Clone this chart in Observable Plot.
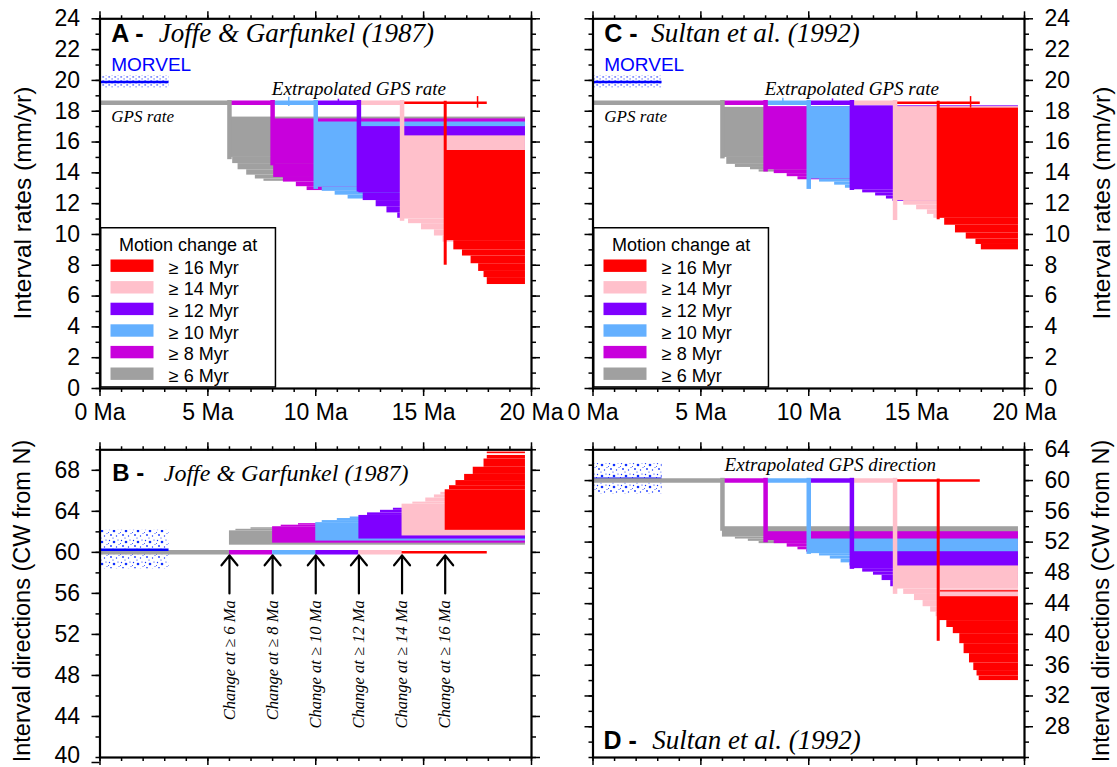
<!DOCTYPE html>
<html>
<head>
<meta charset="utf-8">
<script src="https://cdn.jsdelivr.net/npm/d3@7"></script>
<script src="https://cdn.jsdelivr.net/npm/@observablehq/plot@0.6"></script>
<style>
html,body{margin:0;padding:0;background:#fff;}
#wrap{position:relative;width:1117px;height:767px;overflow:hidden;background:#fff;}
#wrap svg{position:absolute;overflow:visible;}
</style>
</head>
<body>
<div id="wrap"></div>
<script>
// ---------------- data ----------------
const groupStarts = [6, 8, 10, 12, 14, 16];
const groupColors = ["#a0a0a0", "#c800dc", "#64b0ff", "#7f00ff", "#ffc0cb", "#ff0000"];
const legendTitle = "Motion change at";
const legendLabels = ["≥ 6 Myr", "≥ 8 Myr", "≥ 10 Myr", "≥ 12 Myr", "≥ 14 Myr", "≥ 16 Myr"];
const arrowLabels = ["Change at ≥ 6 Ma", "Change at ≥ 8 Ma", "Change at ≥ 10 Ma", "Change at ≥ 12 Ma", "Change at ≥ 14 Ma", "Change at ≥ 16 Ma"];
const xMajorTicks = [0, 5, 10, 15, 20];
const xMinorTicks = [0,1,2,3,4,5,6,7,8,9,10,11,12,13,14,15,16,17,18,19,20];
const rateTicks = [0,2,4,6,8,10,12,14,16,18,20,22,24];
const rateMinorTicks = [0,1,2,3,4,5,6,7,8,9,10,11,12,13,14,15,16,17,18,19,20,21,22,23,24];
const dirTicksB = [44,48,52,56,60,64,68];
const dirEdgeTicksB = [40];
const dirMinorTicksB = [40,42,44,46,48,50,52,54,56,58,60,62,64,66,68,70];
const dirTicksD = [28,32,36,40,44,48,52,56,60,64];
const dirMinorTicksD = [24,26,28,30,32,34,36,38,40,42,44,46,48,50,52,54,56,58,60,62,64];

const gpsRate = 18.55;        // mm/yr
const gpsDir = 60.0;          // deg CW from N
const extrapEnd = 17.95;      // Ma, end of extrapolated GPS line
const intervalEnd = 19.72;    // Ma, end of all interval lines

// MORVEL: [until Ma, value, low, high]
const morvelA = [3.2, 19.9, 19.5, 20.3];
const morvelC = [3.2, 19.9, 19.5, 20.3];
const morvelB = [3.2, 60.25, 58.4, 62.15];
const morvelD = [3.2, 60.25, 58.2, 62.2];

// Interval fans: [group start Ma, value 1, value 2, interval start Ma]
const fanA = [
  [6,17.62,15.0,6.0],[6,15.0,14.6,6.15],[6,14.6,14.2,6.4],[6,14.2,13.85,6.8],[6,13.85,13.6,7.2],[6,13.6,13.45,7.6],
  [8,17.5,14.6,8.0],[8,14.6,13.7,8.05],[8,13.7,13.4,8.5],[8,13.4,13.1,9.1],[8,13.1,12.85,9.6],
  [10,17.3,13.07,10.0],[10,13.07,12.8,10.3],[10,12.8,12.55,10.9],[10,12.55,12.3,11.5],
  [12,17.0,12.7,12.0],[12,12.7,12.2,12.2],[12,12.2,11.8,12.8],[12,11.8,11.4,13.3],[12,11.4,11.05,13.8],
  [14,16.4,11.0,14.0],[14,11.0,10.7,14.3],[14,10.7,10.3,14.9],[14,10.3,9.9,15.5],[14,9.9,9.5,15.9],
  [16,15.45,9.6,16.0],[16,9.6,9.0,16.4],[16,9.0,8.6,16.8],[16,8.6,8.1,17.2],[16,8.1,7.6,17.55],[16,7.6,7.2,17.8],[16,7.2,6.75,17.95]
];
const fanC = [
  [6,18.25,15.0,6.0],[6,15.0,14.55,6.2],[6,14.55,14.35,6.6],[6,14.35,14.2,7.3],[6,14.2,14.05,7.7],
  [8,18.3,14.2,8.0],[8,14.2,13.95,8.4],[8,13.95,13.75,9.0],[8,13.75,13.55,9.5],
  [10,18.3,13.6,10.0],[10,13.6,13.4,10.5],[10,13.4,13.2,11.2],[10,13.2,13.0,11.7],
  [12,18.35,12.9,12.0],[12,12.9,12.7,12.5],[12,12.7,12.5,13.1],[12,12.5,12.3,13.6],[12,12.3,12.15,13.9],
  [14,18.3,12.2,14.0],[14,12.2,11.9,14.4],[14,11.9,11.6,15.0],[14,11.6,11.3,15.5],[14,11.3,11.05,15.8],
  [16,18.2,11.05,16.0],[16,11.05,10.6,16.3],[16,10.6,10.1,16.8],[16,10.1,9.7,17.3],[16,9.7,9.35,17.75],[16,9.35,9.0,18.0]
];
const fanB = [
  [6,60.7,62.1,6.0],[6,62.1,62.25,6.3],[6,62.25,62.4,7.0],
  [8,60.9,62.5,8.0],[8,62.5,62.65,8.4],[8,62.65,62.8,9.2],
  [10,61.1,62.9,10.0],[10,62.9,63.1,10.3],[10,63.1,63.3,11.0],[10,63.3,63.45,11.6],
  [12,61.3,63.6,12.0],[12,63.6,63.85,12.4],[12,63.85,64.1,13.0],[12,64.1,64.3,13.6],
  [14,61.6,64.7,14.0],[14,64.7,64.9,14.5],[14,64.9,65.3,15.1],[14,65.3,65.6,15.5],[14,65.6,65.85,15.8],
  [16,62.15,66.1,16.0],[16,66.1,66.5,16.2],[16,66.5,67.0,16.5],[16,67.0,67.6,16.9],[16,67.6,68.3,17.3],[16,68.3,69.1,17.8],[16,69.1,69.45,17.95],[16,69.62,69.78,17.95]
];
const fanD = [
  [6,54.0,52.65,6.0],[6,52.65,52.4,6.6],[6,52.4,52.1,7.2],[6,52.1,51.8,7.7],
  [8,53.35,52.2,8.0],[8,52.2,51.8,8.4],[8,51.8,51.35,9.0],[8,51.35,51.0,9.5],[8,51.0,50.7,9.9],
  [10,52.4,50.5,10.0],[10,50.5,50.2,10.5],[10,50.2,49.8,11.0],[10,49.8,49.3,11.5],[10,49.3,48.9,11.9],
  [12,50.75,48.55,12.0],[12,48.55,48.1,12.5],[12,48.1,47.7,13.0],[12,47.7,47.0,13.4],[12,47.0,46.2,13.8],
  [14,48.9,45.9,14.0],[14,45.9,45.2,14.4],[14,45.2,44.4,14.9],[14,44.4,43.6,15.3],[14,43.6,42.9,15.65],[14,42.9,42.3,15.9],
  [16,44.9,41.8,16.05],[16,41.8,40.9,16.4],[16,40.9,40.1,16.7],[16,40.1,38.8,17.0],[16,38.8,37.5,17.2],[16,37.5,36.3,17.45],[16,36.3,35.3,17.65],[16,35.3,34.6,17.8],[16,34.6,34.0,17.9],
  [16,45.68,45.52,16.1]
];
// lowest value of the drop at each change time
const dropsA = [15.0, 14.6, 13.07, 12.9, 11.0, 8.1];
const dropsC = [15.05, 14.2, 13.07, 13.0, 11.05, 11.05];
const dropsD = [53.7, 52.2, 50.7, 48.75, 45.5, 39.3];
// small marks on extrapolated line: [Ma, low, high, group index]
const errA = [[8.75,18.3,18.9,2],[11.05,18.4,18.78,3],[17.5,18.2,18.95,5]];
const errC = [[8.8,18.4,18.85,2],[11.1,18.4,18.8,3],[17.5,18.2,18.95,5]];

// ---------------- drawing ----------------
const sans = "'Liberation Sans', Arial, Helvetica, sans-serif";
const serif = "'Liberation Serif', 'Times New Roman', Times, serif";
const wrap = document.getElementById("wrap");

// patterns for the MORVEL band
const defsSvg = d3.create("svg").attr("width", 0).attr("height", 0).style("left","0px").style("top","0px");
const defs = defsSvg.append("defs");
const pf = defs.append("pattern").attr("id","dotsFine").attr("patternUnits","userSpaceOnUse").attr("width",6).attr("height",4);
pf.append("rect").attr("width",6).attr("height",4).attr("fill","#fff");
pf.append("rect").attr("x",0.3).attr("y",0.4).attr("width",1.8).attr("height",1.1).attr("fill","#3348ff");
pf.append("rect").attr("x",3.4).attr("y",2.4).attr("width",1.4).attr("height",1.1).attr("fill","#5a6cff");
const pc = defs.append("pattern").attr("id","dotsCoarse").attr("patternUnits","userSpaceOnUse").attr("width",12).attr("height",11);
pc.append("rect").attr("width",12).attr("height",11).attr("fill","#fff");
[[1.5,1.5,0.7],[6,3,1.3],[10,1,0.6],[3,7,0.9],[8.5,8,0.7],[11,5.5,0.5],[5,10,0.6],[0.5,4.5,0.5]].forEach(([x,y,r]) =>
  pc.append("circle").attr("cx",x).attr("cy",y).attr("r",r).attr("fill","#1030ff"));
wrap.appendChild(defsSvg.node());

// outer axis titles
const bg = d3.create("svg").attr("width",1117).attr("height",767).style("left","0px").style("top","0px");
function vlabel(x, y, text, size) {
  bg.append("text").attr("transform", `translate(${x},${y}) rotate(-90)`)
    .attr("text-anchor","middle").attr("dy","0.36em")
    .attr("font-family", sans).attr("font-size", size).attr("fill","#000").text(text);
}
vlabel(22, 203, "Interval rates (mm/yr)", 24.5);
vlabel(1101, 203, "Interval rates (mm/yr)", 24.5);
vlabel(22, 601, "Interval directions (CW from N)", 23.5);
vlabel(1101, 601, "Interval directions (CW from N)", 23.5);
wrap.appendChild(bg.node());

const PLACEHOLDER = "#fefeff";

function panel(c) {
  const marks = [];
  const m = c.morvel;
  marks.push(Plot.rect([m], {x1: () => 0, x2: d => d[0], y1: d => d[2], y2: d => d[3], fill: PLACEHOLDER}));
  // interval fans
  groupStarts.forEach((g, i) => {
    marks.push(Plot.rect(c.fan.filter(r => r[0] === g), {
      x1: r => r[3], x2: () => intervalEnd, y1: r => r[1], y2: r => r[2], fill: groupColors[i]
    }));
  });
  if (c.morvelUnder) marks.push(Plot.ruleY([m], {y: d => d[1], x1: () => 0, x2: d => d[0], stroke: "#0000ff", strokeWidth: 2.5}));
  // GPS / extrapolated line
  groupStarts.forEach((g, i) => {
    const last = i === groupStarts.length - 1;
    marks.push(Plot.ruleY([c.gps], {
      y: d => d, x1: () => (i ? groupStarts[i - 1] : 0), x2: () => (last ? extrapEnd : g),
      stroke: groupColors[i], strokeWidth: last ? 2.5 : 4.5
    }));
  });
  // drops at change times
  if (c.drops) {
    groupStarts.forEach((g, i) => {
      marks.push(Plot.ruleX([g], {
        x: d => d, y1: () => c.drops[i], y2: () => c.gps,
        stroke: groupColors[i], strokeWidth: i === 5 ? 3 : 4.5, strokeLinecap: "square"
      }));
    });
  }
  if (c.err) {
    c.err.forEach(e => marks.push(Plot.ruleX([e], {x: d => d[0], y1: d => d[1], y2: d => d[2], stroke: groupColors[e[3]], strokeWidth: 1.5})));
  }
  if (!c.morvelUnder) marks.push(Plot.ruleY([m], {y: d => d[1], x1: () => 0, x2: d => d[0], stroke: "#0000ff", strokeWidth: 2.5}));

  // texts
  const t = c.title;
  marks.push(Plot.text([t.letter], {text: d => d, frameAnchor: t.anchor, dx: t.dx, dy: t.dy, textAnchor: "start", lineAnchor: "bottom",
    fontFamily: sans, fontWeight: "bold", fontSize: t.size1, fill: "#000"}));
  marks.push(Plot.text([t.ref], {text: d => d, frameAnchor: t.anchor, dx: t.dx2, dy: t.dy, textAnchor: "start", lineAnchor: "bottom",
    fontFamily: serif, fontStyle: "italic", fontSize: t.size2, fill: "#000"}));
  if (c.morvelText) {
    marks.push(Plot.text(["MORVEL"], {text: d => d, x: () => 0.52, y: () => m[3] + 0.28, textAnchor: "start", lineAnchor: "bottom",
      fontFamily: sans, fontSize: 19, fill: "#0000ff"}));
    marks.push(Plot.text(["GPS rate"], {text: d => d, x: () => 0.52, y: () => c.gps - 1.25, textAnchor: "start", lineAnchor: "bottom",
      fontFamily: serif, fontStyle: "italic", fontSize: 17, fill: "#000"}));
  }
  if (c.extrap) {
    marks.push(Plot.text([c.extrap.text], {text: d => d, x: () => c.extrap.x, y: () => c.gps + c.extrap.up, textAnchor: "middle", lineAnchor: "bottom",
      fontFamily: serif, fontStyle: "italic", fontSize: 19, fill: "#000"}));
  }
  if (c.arrows) {
    marks.push(Plot.arrow(groupStarts, {x1: d => d, x2: d => d, y1: () => c.gps - 4.0, y2: () => c.gps - 0.3,
      stroke: "#000", strokeWidth: 2.2, headLength: 17, headAngle: 78}));
    marks.push(Plot.text(groupStarts, {x: d => d, y: () => c.gps - 4.67, text: (d, i) => arrowLabels[i], rotate: -90,
      textAnchor: "end", lineAnchor: "middle", fontFamily: serif, fontStyle: "italic", fontSize: 16.5, fill: "#000"}));
  }

  // axes (ticks outside on all sides)
  const none = () => "";
  const fmt = v => `${v}`;
  marks.push(Plot.axisX({anchor: "bottom", ticks: xMajorTicks, tickSize: 8, tickPadding: 7, tickFormat: c.xLabels ? (v => `${v} Ma`) : none, strokeWidth: 1.5, label: null, fontSize: 23}));
  marks.push(Plot.axisX({anchor: "bottom", ticks: xMinorTicks, tickSize: 4, tickFormat: none, strokeWidth: 1.5, label: null}));
  marks.push(Plot.axisX({anchor: "top", ticks: xMajorTicks, tickSize: 8, tickFormat: none, strokeWidth: 1.5, label: null}));
  marks.push(Plot.axisX({anchor: "top", ticks: xMinorTicks, tickSize: 4, tickFormat: none, strokeWidth: 1.5, label: null}));
  marks.push(Plot.axisY({anchor: "left", ticks: c.yTicks, tickSize: 8, tickPadding: 12, tickFormat: c.labelSide === "left" ? fmt : none, strokeWidth: 1.5, label: null, fontSize: 23}));
  marks.push(Plot.axisY({anchor: "left", ticks: c.yMinor, tickSize: 4, tickFormat: none, strokeWidth: 1.5, label: null}));
  marks.push(Plot.axisY({anchor: "right", ticks: c.yTicks, tickSize: 8, tickPadding: 12, tickFormat: c.labelSide === "right" ? fmt : none, strokeWidth: 1.5, label: null, fontSize: 23}));
  marks.push(Plot.axisY({anchor: "right", ticks: c.yMinor, tickSize: 4, tickFormat: none, strokeWidth: 1.5, label: null}));
  if (c.yEdgeTicks) {
    // label sitting on the bottom edge of the picture, lifted slightly so it stays whole
    marks.push(Plot.axisY({anchor: "left", ticks: c.yEdgeTicks, tickSize: 8, tickPadding: 12, tickFormat: fmt, strokeWidth: 1.5, label: null, fontSize: 23, lineAnchor: "bottom", dy: 5}));
    marks.push(Plot.axisY({anchor: "right", ticks: c.yEdgeTicks, tickSize: 8, tickFormat: none, strokeWidth: 1.5, label: null}));
  }
  marks.push(Plot.frame({stroke: "#000", strokeWidth: 2.2}));

  const svg = Plot.plot({
    width: c.width, height: c.height,
    marginLeft: c.ml, marginRight: c.mr, marginTop: c.mt, marginBottom: c.mb,
    x: {domain: [0, 20], label: null},
    y: {domain: c.domain, label: null},
    style: {background: "transparent", overflow: "visible", fontFamily: sans, fontSize: "23px", color: "#000"},
    marks
  });
  svg.style.position = "absolute";
  svg.style.left = c.left + "px";
  svg.style.top = c.top + "px";
  svg.querySelectorAll(`[fill="${PLACEHOLDER}"]`).forEach(el => el.setAttribute("fill", `url(#${c.pattern})`));
  wrap.appendChild(svg);
}

function legendBox(frameLeft) {
  const w = 176.2, h = 160.7, top = 227.3;
  const s = d3.create("svg").attr("width", w).attr("height", h).style("left", frameLeft + "px").style("top", top + "px");
  s.append("rect").attr("x",0.75).attr("y",0.75).attr("width",w-1.5).attr("height",h-1.5)
    .attr("fill","#fff").attr("stroke","#000").attr("stroke-width",1.5);
  s.append("text").attr("x", w/2).attr("y", 23.6).attr("text-anchor","middle")
    .attr("font-family", sans).attr("font-size", 18).text(legendTitle);
  [5,4,3,2,1,0].forEach((gi, k) => {
    const cy = 38.7 + 21.6 * k;
    s.append("rect").attr("x",10.5).attr("y",cy-6.2).attr("width",43).attr("height",12.4).attr("fill",groupColors[gi]);
    s.append("text").attr("x",68.8).attr("y",cy+8).attr("font-family",sans).attr("font-size",18).text(legendLabels[gi]);
  });
  wrap.appendChild(s.node());
}

panel({left: 0, top: 0, width: 560, height: 440, ml: 99.5, mr: 29, mt: 18.3, mb: 52,
  domain: [0, 24], yTicks: rateTicks, yMinor: rateMinorTicks, labelSide: "left", xLabels: true,
  fan: fanA, drops: dropsA, err: errA, gps: gpsRate, morvel: morvelA, pattern: "dotsFine", morvelText: true,
  extrap: {text: "Extrapolated GPS rate", x: 12, up: 0.48},
  title: {letter: "A -", ref: "Joffe & Garfunkel (1987)", anchor: "top-left", dx: 11.2, dx2: 58.8, dy: 23.4, size1: 25, size2: 27}});
panel({left: 560, top: 0, width: 557, height: 440, ml: 32.5, mr: 93, mt: 18.3, mb: 52,
  domain: [0, 24], yTicks: rateTicks, yMinor: rateMinorTicks, labelSide: "right", xLabels: true,
  fan: fanC, drops: dropsC, err: errC, gps: gpsRate, morvel: morvelC, pattern: "dotsFine", morvelText: true,
  extrap: {text: "Extrapolated GPS rate", x: 12, up: 0.48},
  title: {letter: "C -", ref: "Sultan et al. (1992)", anchor: "top-left", dx: 11.2, dx2: 58.2, dy: 23.4, size1: 25, size2: 27}});
panel({left: 0, top: 440, width: 560, height: 327, ml: 99.5, mr: 29, mt: 9.3, mb: 10,
  domain: [40, 70], yTicks: dirTicksB, yEdgeTicks: dirEdgeTicksB, yMinor: dirMinorTicksB, labelSide: "left", xLabels: false,
  fan: fanB, gps: gpsDir, morvel: morvelB, pattern: "dotsCoarse", arrows: true,
  title: {letter: "B -", ref: "Joffe & Garfunkel (1987)", anchor: "top-left", dx: 12.2, dx2: 63.8, dy: 31.4, size1: 24, size2: 24}});
panel({left: 560, top: 440, width: 557, height: 327, ml: 32.5, mr: 93, mt: 9.3, mb: 10,
  domain: [24, 64], yTicks: dirTicksD, yMinor: dirMinorTicksD, labelSide: "right", xLabels: false,
  fan: fanD, drops: dropsD, gps: gpsDir, morvel: morvelD, pattern: "dotsCoarse", morvelUnder: true,
  extrap: {text: "Extrapolated GPS direction", x: 11, up: 1.3},
  title: {letter: "D -", ref: "Sultan et al. (1992)", anchor: "bottom-left", dx: 10.5, dx2: 59.2, dy: -9, size1: 25, size2: 27}});
legendBox(99.5);
legendBox(592.5);
</script>
</body>
</html>
